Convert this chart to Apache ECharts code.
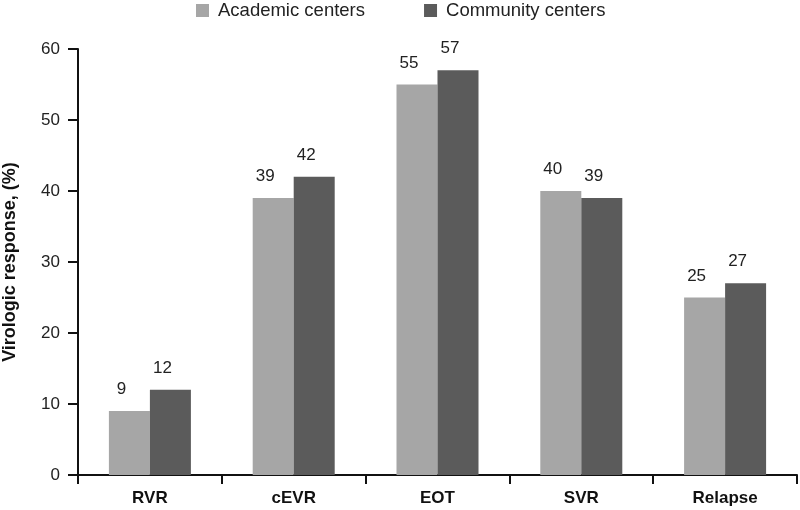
<!DOCTYPE html>
<html><head><meta charset="utf-8">
<script src="https://cdn.jsdelivr.net/npm/echarts@6/dist/echarts.min.js"></script>
<style>html,body{margin:0;padding:0;background:#fff}#c{width:800px;height:510px}</style>
</head><body><div id="c"></div>
<script>
const categories = ['RVR', 'cEVR', 'EOT', 'SVR', 'Relapse'];
const academic = [9, 39, 55, 40, 25];
const community = [12, 42, 57, 39, 27];
const yTicks = [0, 10, 20, 30, 40, 50, 60];

const chart = echarts.init(document.getElementById('c'), null, {renderer: 'canvas'});
const font = 'Arial, "Liberation Sans", sans-serif';
chart.setOption({
  animation: false,
  backgroundColor: '#fff',
  textStyle: {fontFamily: font},
  legend: {
    top: -4, left: 191, itemGap: 59, itemWidth: 13, itemHeight: 13,
    icon: 'rect',
    textStyle: {fontSize: 18.5, color: '#222', fontFamily: font, padding: [0, 0, 0, 4]},
    data: ['Academic centers', 'Community centers']
  },
  grid: {left: 78, right: 3, top: 49, bottom: 35, containLabel: false, outerBoundsMode: 'none'},
  xAxis: {
    type: 'category', data: categories,
    axisLine: {lineStyle: {color: '#111', width: 2}},
    axisTick: {show: true, length: 9, lineStyle: {color: '#111', width: 2}},
    axisLabel: {fontSize: 17, fontWeight: 'bold', color: '#111', margin: 15, fontFamily: font}
  },
  yAxis: {
    type: 'value', min: yTicks[0], max: yTicks[yTicks.length - 1], interval: 10,
    name: 'Virologic response, (%)', nameLocation: 'middle', nameGap: 59,
    nameTextStyle: {fontSize: 18, fontWeight: 'bold', color: '#111', fontFamily: font},
    axisLine: {show: true, lineStyle: {color: '#111', width: 2}},
    axisTick: {show: true, length: 10, lineStyle: {color: '#111', width: 2}},
    axisLabel: {fontSize: 17, color: '#222', margin: 18, fontFamily: font},
    splitLine: {show: false}
  },
  series: [
    {name: 'Academic centers', type: 'bar', data: academic, barWidth: 41, barGap: '0%',
     itemStyle: {color: '#a6a6a6'},
     label: {show: true, position: 'top', distance: 13, offset: [-8, 0], fontSize: 17, color: '#222', fontFamily: font}},
    {name: 'Community centers', type: 'bar', data: community, barWidth: 41,
     itemStyle: {color: '#5b5b5b'},
     label: {show: true, position: 'top', distance: 13, offset: [-8, 0], fontSize: 17, color: '#222', fontFamily: font}}
  ]
});
</script></body></html>
